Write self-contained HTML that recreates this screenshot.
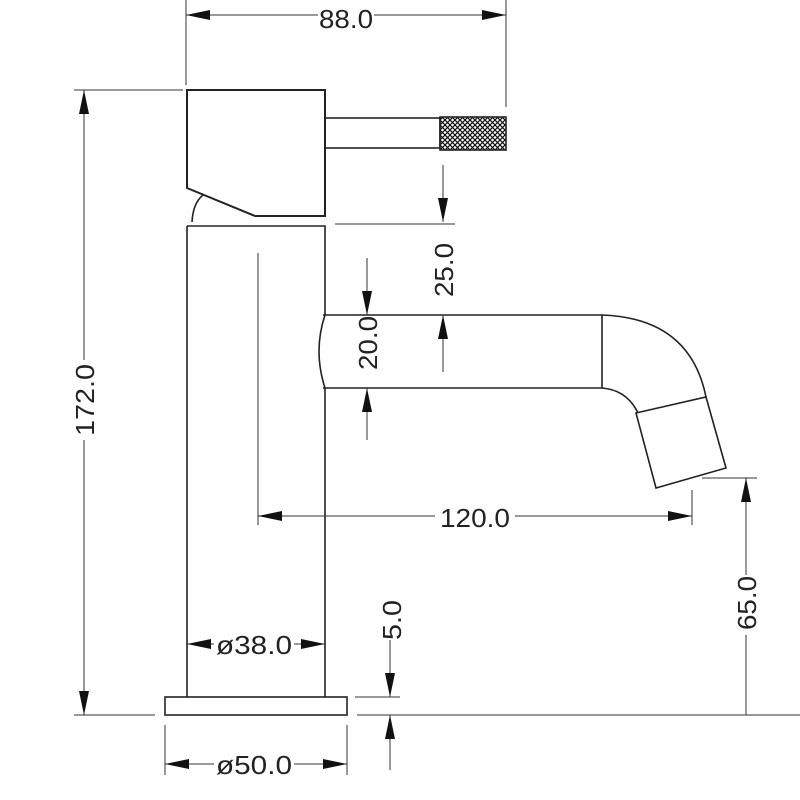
<!DOCTYPE html>
<html><head><meta charset="utf-8"><style>body{margin:0;background:#fff}svg{display:block}</style></head><body>
<svg width="800" height="800" viewBox="0 0 800 800" xmlns="http://www.w3.org/2000/svg">
<defs>
<pattern id="kn" width="5" height="5" patternUnits="userSpaceOnUse">
<path d="M0 0L5 5M5 0L0 5" stroke="#111" stroke-width="1.2"/>
</pattern>
</defs>
<g fill="none" stroke="#222" stroke-width="1.6">
<path d="M187 90H325V216H255L187 188Z" stroke-width="2"/>
<path d="M192 222Q193 203 203 195"/>
<rect x="325" y="118" width="115" height="30"/>
<rect x="440" y="117" width="66" height="33" fill="url(#kn)"/>
<path d="M187 226H325V315M325 388V697M187 226V697"/>
<path d="M323 315H602V388H323"/>
<path d="M325 315Q313 351 325 388"/>
<path d="M602 315Q690 318 706 397"/>
<path d="M602 388Q627 390 638 413"/>
<path d="M636 413L706 397L726 468L656 488Z"/>
<rect x="165" y="697" width="182" height="18"/>
</g>
<g stroke="#333" stroke-width="1" fill="none">
<path d="M186 0V85M506 0V107M186 15H506"/>
<path d="M335 224H455M443 165V222M443 315V372"/>
<path d="M367 258V315M367 388V440"/>
<path d="M258 253V525M692 490V525M258 516H692"/>
<path d="M702 478H757M746 478V715"/>
<path d="M74 90H183M74 715H155M84 90V715"/>
<path d="M187 644H325"/>
<path d="M355 697H400M357 715H800M390 640V697M390 715V770"/>
<path d="M165 725V775M347 725V775M165 764H347"/>
</g>
<g fill="#111">
<path d="M186 15l24-5v10zM506 15l-24-5v10z"/>
<path d="M443 222l-5-24h10zM443 315l-5 24h10z"/>
<path d="M367 315l-5-24h10zM367 388l-5 24h10z"/>
<path d="M258 516l24-5v10zM692 516l-24-5v10z"/>
<path d="M746 478l-5 24h10z"/>
<path d="M84 90l-5 24h10zM84 715l-5-24h10z"/>
<path d="M187 644l24-5v10zM325 644l-24-5v10z"/>
<path d="M390 697l-5-24h10zM390 715l-5 24h10z"/>
<path d="M165 764l24-5v10zM347 764l-24-5v10z"/>
</g>
<g font-family="Liberation Sans, sans-serif" font-size="26" fill="#222" text-anchor="middle">
<rect x="318" y="4" width="56" height="26" fill="#fff"/>
<text x="346" y="28" textLength="54" lengthAdjust="spacingAndGlyphs">88.0</text>
<rect x="435" y="506" width="80" height="24" fill="#fff"/>
<text x="475" y="527" textLength="70" lengthAdjust="spacingAndGlyphs">120.0</text>
<rect x="214" y="632" width="80" height="26" fill="#fff"/>
<text x="254" y="654" textLength="76" lengthAdjust="spacingAndGlyphs">ø38.0</text>
<rect x="214" y="752" width="80" height="26" fill="#fff"/>
<text x="254" y="774" textLength="76" lengthAdjust="spacingAndGlyphs">ø50.0</text>
<text transform="translate(453,270) rotate(-90)" textLength="54" lengthAdjust="spacingAndGlyphs">25.0</text>
<text transform="translate(377,343) rotate(-90)" textLength="54" lengthAdjust="spacingAndGlyphs">20.0</text>
<rect x="72" y="360" width="24" height="80" fill="#fff"/>
<text transform="translate(94,400) rotate(-90)" textLength="72" lengthAdjust="spacingAndGlyphs">172.0</text>
<rect x="734" y="575" width="24" height="60" fill="#fff"/>
<text transform="translate(756,603) rotate(-90)" textLength="54" lengthAdjust="spacingAndGlyphs">65.0</text>
<text transform="translate(401,620) rotate(-90)" textLength="40" lengthAdjust="spacingAndGlyphs">5.0</text>
</g>
</svg>
</body></html>
